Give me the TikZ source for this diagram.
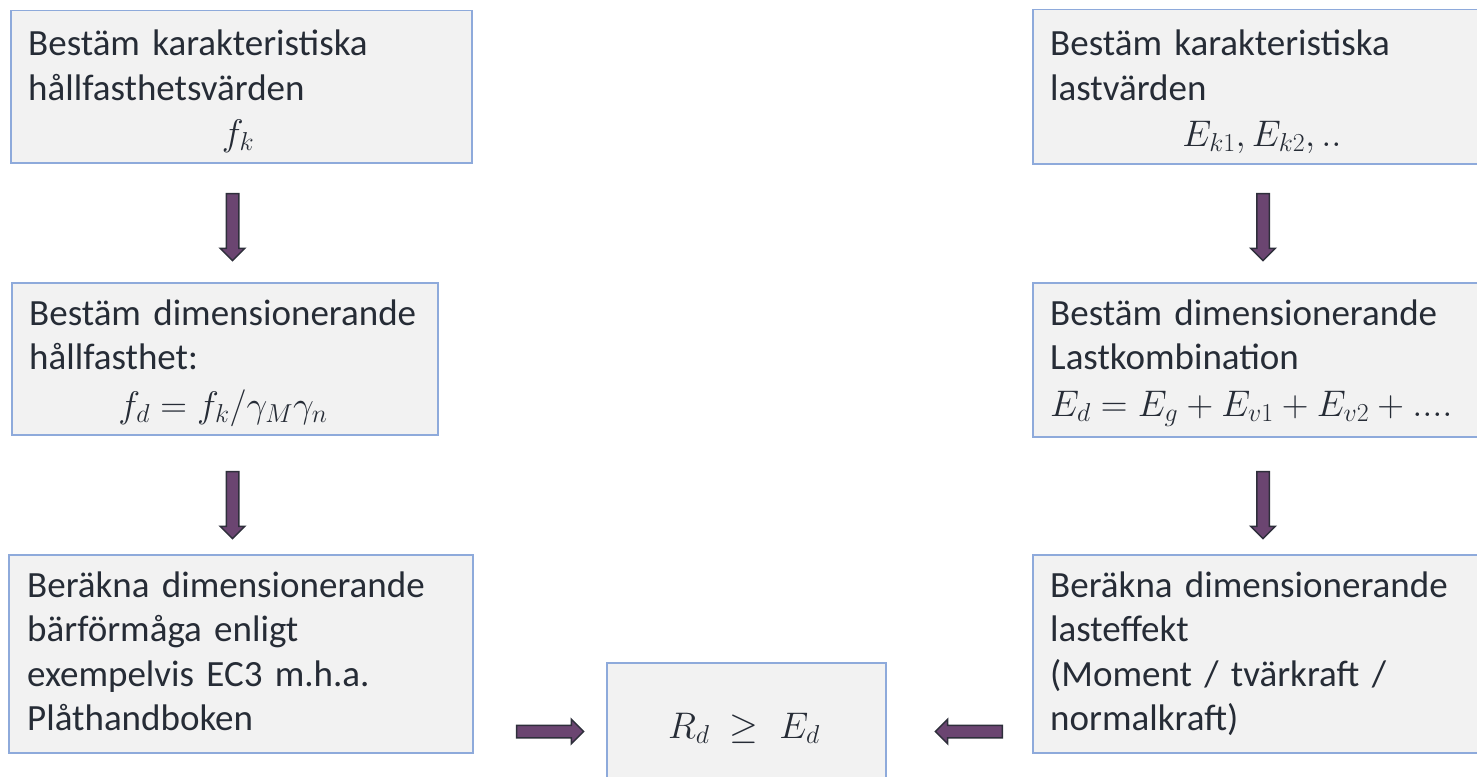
\RequirePackage{fix-cm}
\documentclass[tikz,border=0pt]{standalone}
\usepackage{fontspec}
\setmainfont{Carlito}
\usetikzlibrary{shapes.arrows}
\definecolor{boxfill}{HTML}{F2F2F2}
\definecolor{boxline}{HTML}{8EAADB}
\definecolor{txt}{HTML}{262C36}
\definecolor{arrfill}{HTML}{6B4571}
\definecolor{arrline}{HTML}{2E2F3B}
\begin{document}
\begin{tikzpicture}[x=1pt,y=-1pt,
  box/.style={draw=boxline, fill=boxfill, line width=1.5pt, anchor=north west, inner sep=0pt},
  words/.style={anchor=base west, inner sep=0pt, text=txt, text width=450pt, align=left,
    font=\fontsize{37}{44.5}\selectfont},
  formula/.style={anchor=base, inner sep=0pt, text=txt, font=\fontsize{37}{44.5}\selectfont},
  blockarrow/.style={single arrow, draw=arrline, fill=arrfill, line width=1.5pt,
    inner sep=5.5pt, minimum height=67pt, single arrow head extend=6pt,
    single arrow head indent=0pt}]
\useasboundingbox (0,0) rectangle (1477,776);
\clip (0,0) rectangle (1477,776);
% boxes
\node[box, minimum width=461pt, minimum height=152pt] (lk) at (10,10) {};
\node[box, minimum width=426pt, minimum height=152pt] (ld) at (11,282) {};
\node[box, minimum width=464pt, minimum height=198pt] (lr) at (8,554) {};
\node[box, minimum width=461pt, minimum height=154pt] (rk) at (1032,9) {};
\node[box, minimum width=461pt, minimum height=154pt] (rd) at (1032,282) {};
\node[box, minimum width=461pt, minimum height=198pt] (rr) at (1032,554) {};
\node[box, minimum width=279pt, minimum height=130pt] (c) at (606,662) {};
% texts
\node[words] (lkt) at (28,56) {Bestäm karakteristiska\\hållfasthetsvärden};
\node[formula] (lkm) at (238,145) {$f_k$};
\node[words] (ldt) at (29,325) {Bestäm dimensionerande\\hållfasthet:};
\node[formula] (ldm) at (223,417) {$f_d=f_k/\gamma_M\gamma_n$};
\node[words] (lrt) at (27,597) {Beräkna dimensionerande\\bärförmåga enligt\\exempelvis EC3 m.h.a.\\Plåthandboken};
\node[words] (rkt) at (1050,56) {Bestäm karakteristiska\\lastvärden};
\node[formula] (rkm) at (1262,146) {$E_{k1},E_{k2},..$};
\node[words] (rdt) at (1050,325) {Bestäm dimensionerande\\Lastkombination};
\node[formula, anchor=base west] (rdm) at (1050,416) {$E_d=E_g+E_{v1}+E_{v2}+....$};
\node[words] (rrt) at (1050,597) {Beräkna dimensionerande\\lasteffekt\\(Moment / tvärkraft /\\normalkraft)};
\node[formula] (cm) at (744,738) {$R_d\;\geq\;E_d$};
% block arrows
\node[blockarrow, rotate=-90] (a1) at (232.5,224) {};
\node[blockarrow, rotate=-90] (a2) at (232.5,502) {};
\node[blockarrow, rotate=-90] (a3) at (1263,224) {};
\node[blockarrow, rotate=-90] (a4) at (1263,502) {};
\node[blockarrow] (a5) at (547,731.5) {};
\node[blockarrow, rotate=180] (a6) at (972,731.5) {};
\end{tikzpicture}
\end{document}
